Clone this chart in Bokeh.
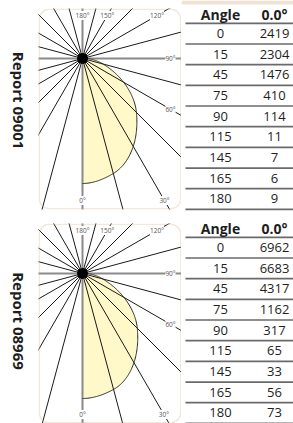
import numpy as np
from bokeh.plotting import figure
from bokeh.models import Range1d, BoxAnnotation, Spacer
from bokeh.layouts import column, row
from bokeh.core.properties import value
from bokeh.embed import file_html
from bokeh.resources import INLINE

# ---------------- data ----------------
angles = [0, 15, 45, 75, 90, 115, 145, 165, 180]
report_ids = ["Report 09001", "Report 08969"]
candela_09001 = [2419, 2304, 1476, 410, 114, 11, 7, 6, 9]
candela_08969 = [6962, 6683, 4317, 1162, 317, 65, 33, 56, 73]
table_headers = ["Angle", "0.0°"]
grid_angles = list(range(0, 360, 15))
axis_label_angles = [180, 150, 120, 90, 60, 30, 0]

# ---------------- layout constants ----------------
PX = 125.0          # pixels for the maximum intensity
BOX_W = 143
CX, CY = 44, 50     # polar centre inside the box (px from left / top)
LABEL_W = 38
TABLE_W = 112
ROW_PX = 20.67
ROW0_LINE = 25.17   # screen y of row "u=0" below a panel's top
FONT = "Open Sans"
STRIP = "#eee3d4"


def pchip(x, y, xq):
    x = np.asarray(x, float)
    y = np.asarray(y, float)
    h = np.diff(x)
    d = np.diff(y) / h
    n = len(x)
    m = np.zeros(n)
    for k in range(1, n - 1):
        if d[k - 1] * d[k] > 0:
            w1 = 2 * h[k] + h[k - 1]
            w2 = h[k] + 2 * h[k - 1]
            m[k] = (w1 + w2) / (w1 / d[k - 1] + w2 / d[k])
    out = np.empty_like(xq, dtype=float)
    idx = np.clip(np.searchsorted(x, xq, side="right") - 1, 0, n - 2)
    for j, (q, k) in enumerate(zip(xq, idx)):
        t = (q - x[k]) / h[k]
        h00 = 2 * t**3 - 3 * t**2 + 1
        h10 = t**3 - 2 * t**2 + t
        h01 = -2 * t**3 + 3 * t**2
        h11 = t**3 - t**2
        out[j] = h00 * y[k] + h10 * h[k] * m[k] + h01 * y[k + 1] + h11 * h[k] * m[k + 1]
    return out


def bare(p, bg="white"):
    p.xgrid.visible = False
    p.ygrid.visible = False
    p.outline_line_color = None
    p.background_fill_color = bg
    p.border_fill_color = bg
    return p


def polar_fig(vals, height, top_pad, bottom_pad):
    frame_h = height - top_pad - bottom_pad
    x0, x1 = -CX / PX, (BOX_W - CX) / PX
    y0, y1 = -(frame_h - CY) / PX, CY / PX
    p = figure(width=BOX_W, height=height, output_backend="svg", toolbar_location=None,
               x_range=Range1d(x0, x1), y_range=Range1d(y0, y1),
               x_axis_location=None, y_axis_location=None,
               min_border_left=0, min_border_right=0, min_border_top=top_pad,
               min_border_bottom=bottom_pad)
    bare(p)
    vmax = max(vals)
    # smooth intensity curve
    tq = np.linspace(angles[0], angles[-1], 361)
    rq = np.maximum(pchip(angles, vals, tq), 0) / vmax
    th = np.radians(tq)
    cx = rq * np.sin(th)
    cy = -rq * np.cos(th)
    p.patch(np.r_[0.0, cx], np.r_[0.0, cy], fill_color="#fff8c9", line_color=None)
    # rays
    ga = np.radians(grid_angles)
    L = 2.5
    ex = L * np.sin(ga)
    ey = -L * np.cos(ga)
    main = np.array([a % 90 == 0 for a in grid_angles])
    p.segment(0, 0, ex[~main], ey[~main], line_color="#1a1a1a", line_width=1)
    p.segment(0, 0, ex[main], ey[main], line_color="#8a8a8a", line_width=2)
    p.line(cx, cy, line_color="#2b2b2b", line_width=1)
    p.scatter([0], [0], size=10, color="black")
    # angle labels near the box edge
    it, ir, ib, il = 7 / PX, 11 / PX, 9 / PX, 9 / PX
    lx, ly = [], []
    for a in axis_label_angles:
        t = np.radians(a)
        dx, dy = np.sin(t), -np.cos(t)
        ts = []
        if dx > 1e-9:
            ts.append((x1 - ir) / dx)
        if dx < -1e-9:
            ts.append((x0 + il) / dx)
        if dy > 1e-9:
            ts.append((y1 - it) / dy)
        if dy < -1e-9:
            ts.append((y0 + ib) / dy)
        s = min(ts)
        lx.append(s * dx)
        ly.append(s * dy)
    p.text(x=lx, y=ly, text=[f"{a}°" for a in axis_label_angles],
           text_font=value(FONT), text_font_size="6.5px", text_color="#555555",
           text_align="center", text_baseline="middle", background_fill_color="white")
    h = 0.75 / PX
    p.add_layout(BoxAnnotation(left=x0 + h, right=x1 - h, bottom=y0 + h, top=y1 - h,
                               fill_alpha=0, line_color="#d3b78f", line_width=1.5,
                               border_radius=10))
    return p


def table_fig(vals, height, top_extra, strip_h):
    row0 = ROW0_LINE + top_extra
    u_top = -row0 / ROW_PX
    u_bot = (height - row0) / ROW_PX
    p = figure(width=TABLE_W, height=height, output_backend="svg", toolbar_location=None,
               x_range=Range1d(0, TABLE_W), y_range=Range1d(u_bot, u_top),
               x_axis_location=None, y_axis_location=None,
               min_border_left=0, min_border_right=0, min_border_top=0, min_border_bottom=0)
    bare(p)
    if strip_h > 0:
        p.quad(left=0, right=TABLE_W, top=u_top, bottom=u_top + strip_h / ROW_PX,
               fill_color=STRIP, line_color=None)
    col_x = [39, 93]
    lines_y = np.arange(-1, len(angles)) + 0.5
    p.segment(x0=4, y0=lines_y, x1=TABLE_W, y1=lines_y, line_color="#6a6a6a", line_width=1.7)
    head_gap = 8.5 / ROW_PX
    row_gap = 10.5 / ROW_PX
    p.text(x=col_x, y=[-0.5 - head_gap] * 2, text=table_headers,
           text_font=value(FONT), text_font_size="14px", text_font_style="bold",
           text_color="#1e1e1e", text_align="center", text_baseline="middle")
    ys = np.arange(len(angles)) + 0.5 - row_gap
    p.text(x=col_x[0], y=ys, text=[str(a) for a in angles],
           text_font=value(FONT), text_font_size="13px", text_color="#1e1e1e",
           text_align="center", text_baseline="middle")
    p.text(x=col_x[1], y=ys, text=[str(v) for v in vals],
           text_font=value(FONT), text_font_size="13px", text_color="#1e1e1e",
           text_align="center", text_baseline="middle")
    return p


def label_fig(name, height):
    p = figure(width=LABEL_W, height=height, output_backend="svg", toolbar_location=None,
               x_range=Range1d(0, LABEL_W), y_range=Range1d(0, height),
               x_axis_location=None, y_axis_location=None,
               min_border_left=0, min_border_right=0, min_border_top=0, min_border_bottom=0)
    bare(p)
    p.text(x=[18], y=[height - 98], text=[name], angle=-np.pi / 2,
           text_font=value(FONT), text_font_size="15px", text_font_style="bold",
           text_color="#1e1e1e", text_align="center", text_baseline="alphabetic")
    return p


def strip_fig(w, h):
    s = figure(width=w, height=h, output_backend="svg", toolbar_location=None,
               x_axis_location=None, y_axis_location=None,
               min_border_left=0, min_border_right=0, min_border_top=0, min_border_bottom=0)
    return bare(s, STRIP)


H1, H2 = 214, 201
left = column(row(Spacer(width=13, height=4), strip_fig(LABEL_W + BOX_W - 13, 4)),
              Spacer(width=LABEL_W + BOX_W, height=4),
              row(label_fig(report_ids[0], H1), polar_fig(candela_09001, H1, 0, 13)),
              row(label_fig(report_ids[1], H2), polar_fig(candela_08969, H2, 1, 0)))
right = column(table_fig(candela_09001, H1, 8, 4),
               table_fig(candela_08969, H2 + 8, 8, 0))

layout = row(left, right)

open("out.html", "w").write(file_html(layout, INLINE))
